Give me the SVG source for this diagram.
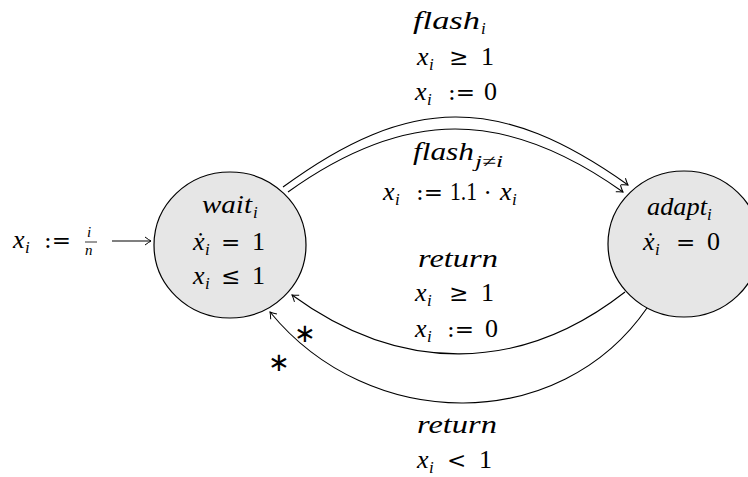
<svg xmlns="http://www.w3.org/2000/svg" width="748" height="477" viewBox="0 0 748 477">
<style>
  .node { fill: #e6e6e6; stroke: #000; stroke-width: 1.2; }
  .edge { fill: none; stroke: #000; stroke-width: 1.1; }
</style>
<defs>
  <marker id="arr" markerUnits="userSpaceOnUse" markerWidth="14" markerHeight="14" viewBox="-10 -7 14 14" refX="0" refY="0" orient="auto">
    <path d="M -6 -4 Q -2 -1 0 0 Q -2 1 -6 4" fill="none" stroke="#000" stroke-width="1"/>
  </marker>
</defs>
<rect width="748" height="477" fill="#fff"/>

<g id="connectors">
  <line id="e-init" class="edge" x1="112" y1="241" x2="151" y2="241" marker-end="url(#arr)"/>
  <path id="e-flash" class="edge" d="M 283 187 C 410 94 500 94 628 185" marker-end="url(#arr)"/>
  <path id="e-flashj" class="edge" d="M 288 192 C 405 108 505 108 623 192" marker-end="url(#arr)"/>
  <path id="e-ret1" class="edge" d="M 625 292 C 520 374 400 374 292 295" marker-end="url(#arr)"/>
  <path id="e-ret2" class="edge" d="M 647 308 C 560 434 370 434 270 312" marker-end="url(#arr)"/>
</g>

<g font-family="Liberation Serif, DejaVu Serif, serif" font-size="26" fill="#000">
<g id="node-wait">
  <ellipse class="node" cx="230" cy="245" rx="76" ry="73"/>
  <text font-style="italic" x="202" y="213" textLength="50" lengthAdjust="spacingAndGlyphs">wait</text>
  <text font-style="italic" font-size="17" x="253" y="218">i</text>
  <text font-style="italic" x="193" y="250">ẋ</text>
  <text font-style="italic" font-size="17" x="205" y="255">i</text>
  <text font-family="DejaVu Serif, serif" font-size="23" x="221" y="250">=</text>
  <text x="252" y="250">1</text>
  <text font-style="italic" x="193" y="284">x</text>
  <text font-style="italic" font-size="17" x="205" y="289">i</text>
  <text font-family="DejaVu Serif, serif" font-size="23" x="221" y="284">≤</text>
  <text x="252" y="284">1</text>
</g>

<g id="node-adapt">
  <ellipse class="node" cx="684" cy="244" rx="76" ry="73"/>
  <text font-style="italic" x="647" y="215" textLength="60" lengthAdjust="spacingAndGlyphs">adapt</text>
  <text font-style="italic" font-size="17" x="707" y="220">i</text>
  <text font-style="italic" x="643" y="250">ẋ</text>
  <text font-style="italic" font-size="17" x="655" y="255">i</text>
  <text font-family="DejaVu Serif, serif" font-size="23" x="676" y="250">=</text>
  <text x="707" y="250">0</text>
</g>

<g id="label-init">
  <text font-style="italic" x="13" y="248">x</text>
  <text font-style="italic" font-size="17" x="25" y="253">i</text>
  <text font-family="DejaVu Serif, serif" font-size="23" x="44" y="248">:=</text>
  <text font-style="italic" font-size="15" x="87" y="237">i</text>
  <line x1="85" y1="242" x2="97" y2="242" stroke="#000" stroke-width="0.8"/>
  <text font-style="italic" font-size="15" x="85" y="255">n</text>
</g>

<g id="label-flash">
  <text font-style="italic" x="413" y="29" textLength="67" lengthAdjust="spacingAndGlyphs">flash</text>
  <text font-style="italic" font-size="17" x="481" y="34">i</text>
  <text font-style="italic" x="417" y="65">x</text>
  <text font-style="italic" font-size="17" x="429" y="70">i</text>
  <text font-family="DejaVu Serif, serif" font-size="23" x="449" y="65">≥</text>
  <text x="481" y="65">1</text>
  <text font-style="italic" x="415" y="100">x</text>
  <text font-style="italic" font-size="17" x="427" y="105">i</text>
  <text font-family="DejaVu Serif, serif" font-size="23" x="448" y="100">:=</text>
  <text x="484" y="100">0</text>
</g>

<g id="label-flashj">
  <text font-style="italic" x="413" y="160" textLength="61" lengthAdjust="spacingAndGlyphs">flash</text>
  <text font-style="italic" font-size="17" x="475" y="167" textLength="28" lengthAdjust="spacingAndGlyphs">j≠i</text>
  <text font-style="italic" x="383" y="200">x</text>
  <text font-style="italic" font-size="17" x="395" y="205">i</text>
  <text font-family="DejaVu Serif, serif" font-size="23" x="416" y="200">:=</text>
  <text x="450" y="200" textLength="27" lengthAdjust="spacingAndGlyphs">1.1</text>
  <text font-family="DejaVu Serif, serif" font-size="23" x="484" y="200">·</text>
  <text font-style="italic" x="500" y="200">x</text>
  <text font-style="italic" font-size="17" x="512" y="205">i</text>
</g>

<g id="label-ret1">
  <text font-style="italic" x="418" y="267" textLength="80" lengthAdjust="spacingAndGlyphs">return</text>
  <text font-style="italic" x="415" y="301">x</text>
  <text font-style="italic" font-size="17" x="427" y="306">i</text>
  <text font-family="DejaVu Serif, serif" font-size="23" x="449" y="301">≥</text>
  <text x="481" y="301">1</text>
  <text font-style="italic" x="415" y="337">x</text>
  <text font-style="italic" font-size="17" x="427" y="342">i</text>
  <text font-family="DejaVu Serif, serif" font-size="23" x="447" y="337">:=</text>
  <text x="485" y="337">0</text>
  <text font-family="DejaVu Sans, sans-serif" font-size="26" x="294" y="342">∗</text>
</g>

<g id="label-ret2">
  <text font-style="italic" x="417" y="433" textLength="80" lengthAdjust="spacingAndGlyphs">return</text>
  <text font-style="italic" x="417" y="468">x</text>
  <text font-style="italic" font-size="17" x="429" y="473">i</text>
  <text font-family="DejaVu Serif, serif" font-size="23" x="447" y="468">&lt;</text>
  <text x="479" y="468">1</text>
  <text font-family="DejaVu Sans, sans-serif" font-size="26" x="268" y="371">∗</text>
</g>
</g>
</svg>
